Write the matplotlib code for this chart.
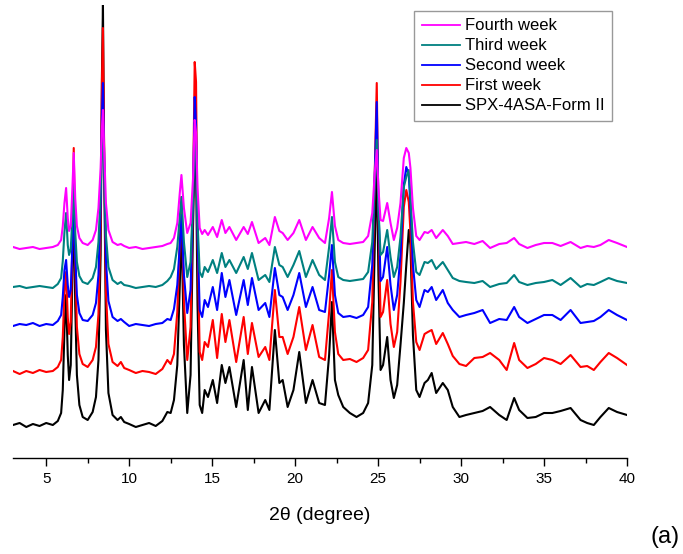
import matplotlib
matplotlib.use("Agg")
import matplotlib.pyplot as plt
from matplotlib.ticker import MultipleLocator

plt.rcParams['font.family'] = ['Liberation Sans', 'DejaVu Sans']

# Diffraction angle grid (2theta, degrees)
two_theta = [
    3.0, 3.4, 3.8, 4.2, 4.6, 5.0, 5.4, 5.7,
    5.9, 6.0, 6.1, 6.2, 6.3, 6.38, 6.48, 6.58, 6.66, 6.75, 6.85, 7.0, 7.2,
    7.5, 7.8, 8.0, 8.15, 8.28, 8.36, 8.42, 8.5, 8.6, 8.75, 9.0,
    9.3, 9.5, 9.7, 10.0, 10.4, 10.8, 11.2, 11.6, 12.0, 12.3, 12.5, 12.7, 12.9,
    13.05, 13.15, 13.3, 13.5, 13.7, 13.85, 13.95, 14.03, 14.12, 14.25, 14.4,
    14.55, 14.75, 15.04, 15.3, 15.58, 15.8, 16.04, 16.45, 16.9, 17.15, 17.4,
    17.8, 18.2, 18.45, 18.78, 19.05, 19.25, 19.55, 19.9, 20.25, 20.65, 21.05,
    21.45, 21.8, 22.05, 22.22, 22.4, 22.6,
    22.9, 23.3, 23.7, 24.1, 24.4, 24.65, 24.8, 24.92, 25.02, 25.15, 25.3,
    25.55, 25.75, 25.95, 26.15, 26.35, 26.55, 26.7, 26.85, 26.95, 27.1, 27.3,
    27.5, 27.8, 28.0, 28.23, 28.5, 28.9, 29.2, 29.5, 29.9, 30.3, 30.8, 31.3,
    31.75, 32.3, 32.75, 33.2, 33.5, 34.0, 34.5, 35.0, 35.5, 36.0, 36.6, 37.2,
    37.6, 38.0, 38.4, 38.9, 39.4, 40.0,
]

# Intensities (a.u.) above each pattern's own background
fourth_week = [
    1, -1, 0, 1, -1, 0, 1, 3,
    8, 22, 45, 60, 30, 17, 22, 60, 95, 50, 22, 10, 5,
    3, 8, 18, 40, 80, 120, 138, 95, 45, 18, 6,
    3, 4, 2, 0, 1, -1, 0, 1, 2, 4, 5, 10, 25,
    55, 73, 40, 15, 25, 70, 128, 115, 60, 20, 14,
    18, 13, 21, 11, 28, 15, 21, 8, 21, 14, 26,
    5, 10, 3, 31, 17, 15, 8, 15, 28, 8, 21,
    10, 5, 30, 56, 22, 8,
    5, 4, 5, 6, 12, 35, 75, 98, 60, 28, 27,
    45, 25, 8, 20, 45, 90, 100, 95, 80, 40, 12,
    8, 16, 15, 18, 10, 18, 12, 4, 5, 6, 4, 7,
    0, 4, 5, 10, 4, 0, 3, 5, 5, 2, 6, 0,
    2, 1, 3, 8, 5, 1,
]
third_week = [
    0, 1, -1, 0, 1, 0, -1, 3,
    9, 26, 55, 74, 42, 32, 38, 70, 102, 55, 25, 11, 5,
    3, 9, 20, 45, 95, 145, 167, 115, 52, 20, 7,
    3, 5, 2, 1, -1, 0, 1, 0, 2, 6, 10, 18, 40,
    70, 90, 45, 10, 25, 90, 150, 140, 65, 15, 10,
    20, 15, 27, 14, 34, 20, 27, 14, 30, 18, 34,
    7, 12, 5, 40, 22, 20, 10, 22, 36, 10, 27,
    12, 7, 40, 70, 25, 10,
    7, 6, 7, 8, 15, 45, 105, 147, 80, 32, 35,
    57, 30, 10, 20, 50, 100, 110, 117, 90, 45, 15,
    12, 25, 24, 27, 18, 25, 17, 9, 6, 5, 4, 6,
    0, 3, 4, 12, 5, 2, 4, 5, 7, 2, 9, 0,
    3, 2, 5, 9, 6, 4,
]
second_week = [
    -1, 1, 0, 2, -1, 1, 0, 4,
    10, 28, 55, 65, 40, 28, 35, 80, 140, 70, 30, 12, 5,
    4, 10, 22, 50, 120, 210, 242, 160, 65, 24, 8,
    4, 6, 3, -1, 1, 0, -1, 1, 2, 6, 5, 16, 40,
    80, 110, 50, 12, 35, 130, 228, 200, 90, 15, 8,
    25, 18, 38, 15, 52, 28, 45, 10, 45, 20, 47,
    15, 22, 8, 57, 30, 28, 15, 30, 52, 18, 38,
    15, 13, 50, 80, 30, 12,
    8, 9, 7, 10, 18, 60, 150, 223, 120, 44, 48,
    78, 40, 15, 30, 70, 140, 158, 150, 120, 60, 25,
    18, 35, 33, 38, 25, 35, 22, 15, 8, 10, 12, 15,
    2, 6, 5, 18, 8, 2, 6, 10, 10, 5, 15, 2,
    3, 4, 8, 15, 10, 5,
]
first_week = [
    1, -2, 1, -1, 2, 0, 1, 5,
    12, 35, 80, 100, 55, 38, 50, 130, 224, 110, 45, 18, 8,
    5, 12, 25, 58, 150, 290, 344, 210, 80, 28, 10,
    6, 10, 4, 2, -1, 1, 0, -2, 3, 12, 8, 18, 60,
    130, 175, 70, 12, 45, 180, 310, 290, 130, 20, 12,
    30, 25, 52, 14, 58, 30, 52, 10, 55, 18, 49,
    15, 25, 12, 82, 35, 35, 18, 35, 65, 22, 47,
    15, 12, 60, 102, 40, 18,
    12, 13, 10, 14, 22, 70, 200, 289, 160, 55, 60,
    92, 48, 25, 40, 90, 165, 182, 170, 140, 70, 30,
    22, 38, 40, 42, 28, 39, 28, 16, 8, 6, 14, 15,
    19, 12, 2, 29, 12, 4, 8, 14, 12, 8, 17, 5,
    6, 2, 10, 19, 14, 7,
]
form_ii = [
    0, 2, -2, 1, -1, 2, 0, 4,
    12, 35, 95, 130, 70, 45, 60, 150, 240, 120, 50, 20, 8,
    5, 13, 28, 65, 170, 350, 420, 250, 95, 32, 10,
    5, 8, 3, 1, -2, 0, 2, -1, 4, 13, 12, 25, 60,
    140, 202, 80, 12, 50, 200, 278, 260, 120, 20, 12,
    35, 28, 45, 22, 60, 42, 58, 18, 65, 15, 58,
    12, 25, 15, 95, 42, 45, 18, 35, 73, 22, 45,
    22, 20, 70, 123, 45, 30,
    18, 12, 8, 12, 22, 60, 180, 262, 150, 55, 60,
    88, 45, 27, 40, 80, 122, 160, 195, 180, 90, 35,
    28, 42, 45, 52, 32, 42, 35, 18, 8, 10, 12, 14,
    18, 10, 5, 27, 15, 7, 8, 12, 12, 14, 17, 5,
    2, 0, 8, 17, 13, 10,
]

labels = ["Fourth week", "Third week", "Second week", "First week", "SPX-4ASA-Form II"]
series = [fourth_week, third_week, second_week, first_week, form_ii]
colors = ["#FF00FF", "#008080", "#0000FF", "#FF0000", "#000000"]
offsets = [210, 171, 133, 86, 33]

fig = plt.figure(figsize=(6.83, 5.54), dpi=100)
ax = fig.add_axes([13 / 683, 96 / 554, 614 / 683, 453 / 554])

lines = {}
# bottom pattern first so the aged samples sit on top
for lab, ys, c, off in reversed(list(zip(labels, series, colors, offsets))):
    ln, = ax.plot(two_theta, [off + v for v in ys], color=c, lw=1.5,
                  solid_joinstyle='round')
    lines[lab] = ln

ax.set_xlim(3, 40)
ax.set_ylim(0, 453)
for side in ("left", "right", "top"):
    ax.spines[side].set_visible(False)
ax.spines["bottom"].set_linewidth(1.0)
ax.set_yticks([])
ax.xaxis.set_major_locator(MultipleLocator(5))
ax.xaxis.set_minor_locator(MultipleLocator(2.5))
ax.tick_params(axis="x", which="major", direction="out", length=6, width=1.0,
               labelsize=11, pad=4)
ax.tick_params(axis="x", which="minor", direction="out", length=3.5, width=1.0)
ax.set_xticks([5, 10, 15, 20, 25, 30, 35, 40])

fig.text(320 / 683, 1 - 515 / 554, "2\u03b8 (degree)", ha="center", va="center",
         fontsize=14)
fig.text(650 / 683, 1 - 537 / 554, "(a)", ha="left", va="center", fontsize=17)

leg = ax.legend([lines[l] for l in labels], labels, loc="upper right",
                bbox_to_anchor=(612 / 683, 1 - 11 / 554),
                bbox_transform=fig.transFigure, fontsize=12, frameon=True,
                fancybox=False, handlelength=2.3, handletextpad=0.3,
                labelspacing=0.3, borderpad=0.45, borderaxespad=0)
leg.get_frame().set_edgecolor("#808080")
leg.get_frame().set_linewidth(1.0)
for h in leg.legend_handles:
    h.set_linewidth(1.3)

fig.savefig("out.png", dpi=100)
